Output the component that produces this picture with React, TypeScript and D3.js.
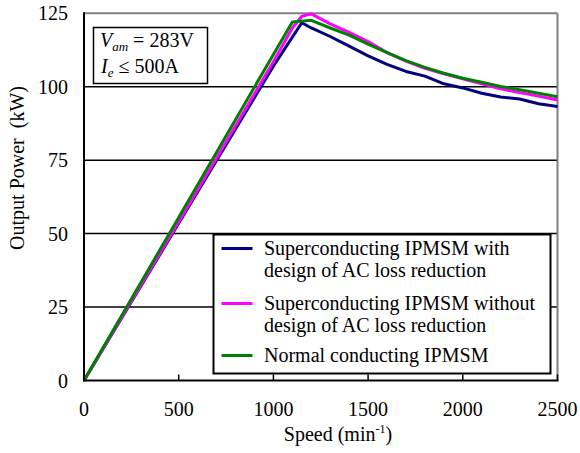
import React from "react";
import * as d3 from "d3";

type Pt = [number, number];

const speedTicks = [0, 500, 1000, 1500, 2000, 2500];
const powerTicks = [0, 25, 50, 75, 100, 125];

const seriesNames = [
  ["Superconducting IPMSM with", "design of AC loss reduction"],
  ["Superconducting IPMSM without", "design of AC loss reduction"],
  ["Normal conducting IPMSM"],
];
const seriesColors = ["#000080", "#ff00ff", "#008000"];

const withReduction: Pt[] = [
  [0, 0], [500, 53.5], [1000, 107], [1150, 121.8], [1200, 120.0], [1300, 117.1],
  [1400, 113.8], [1500, 110.5], [1600, 107.6], [1700, 105.2], [1800, 103.6],
  [1900, 101.0], [2000, 99.6], [2100, 97.8], [2200, 96.5], [2300, 95.8],
  [2400, 94.2], [2500, 93.3],
];
const withoutReduction: Pt[] = [
  [0, 0], [500, 54], [1000, 108.5], [1100, 120], [1150, 124], [1200, 124.8],
  [1300, 121.4], [1400, 118.5], [1500, 115.4], [1600, 111.6], [1700, 108.7],
  [1800, 106.3], [1900, 104.4], [2000, 102.7], [2100, 101.0], [2200, 99.3],
  [2300, 98.0], [2400, 96.8], [2500, 95.5],
];
const normalConducting: Pt[] = [
  [0, 0], [500, 55.5], [1000, 111], [1100, 122], [1200, 122.6], [1300, 120],
  [1400, 117.6], [1500, 114.5], [1600, 111.6], [1700, 108.9], [1800, 106.6],
  [1900, 104.6], [2000, 102.9], [2100, 101.5], [2200, 100.1], [2300, 99.0],
  [2400, 97.8], [2500, 96.6],
];
const allSeries = [withReduction, withoutReduction, normalConducting];

const FONT = '"Liberation Serif", "Times New Roman", "DejaVu Serif", serif';

export default function App() {
  const W = 580, H = 453;
  const x = d3.scaleLinear().domain([0, 2500]).range([84, 557.5]);
  const y = d3.scaleLinear().domain([0, 125]).range([380.5, 13.3]);
  const line = d3
    .line<Pt>()
    .x((d) => x(d[0]))
    .y((d) => y(d[1]));

  const legendX = 213.5, legendY = 234.5, legendW = 337, legendH = 139;
  const itemTops = [255, 310, 362];
  const ts: React.CSSProperties = { fontFamily: FONT };

  return (
    <svg
      width={W}
      height={H}
      style={{ position: "absolute", left: 0, top: 0, background: "#fff", fontFamily: FONT }}
    >
      <rect x={0} y={0} width={W} height={H} fill="#fff" />
      {powerTicks
        .filter((t) => t > 0 && t < 125)
        .map((t) => (
          <line key={t} x1={x(0)} x2={x(2500)} y1={y(t)} y2={y(t)} stroke="#000" strokeWidth={1.5} />
        ))}
      <line x1={x(0)} x2={x(2500)} y1={y(125)} y2={y(125)} stroke="#808080" strokeWidth={2} />
      <line x1={x(2500)} x2={x(2500)} y1={y(125)} y2={y(0)} stroke="#808080" strokeWidth={2} />
      {speedTicks.map((t) => (
        <line key={t} x1={x(t)} x2={x(t)} y1={y(0)} y2={y(0) - 6} stroke="#000" strokeWidth={1.5} />
      ))}
      {allSeries.map((s, i) => (
        <path key={i} d={line(s) || ""} fill="none" stroke={seriesColors[i]} strokeWidth={3} strokeLinejoin="round" />
      ))}
      <line x1={x(0)} x2={x(0)} y1={y(125) - 1} y2={y(0) + 1} stroke="#000" strokeWidth={2} />
      <line x1={x(0) - 1} x2={x(2500) + 1} y1={y(0)} y2={y(0)} stroke="#000" strokeWidth={2} />
      {speedTicks.map((t) => (
        <text key={t} x={x(t)} y={416} textAnchor="middle" fontSize={20} style={ts}>
          {t}
        </text>
      ))}
      {powerTicks.map((t) => (
        <text key={t} x={68} y={y(t) + 7} textAnchor="end" fontSize={20} style={ts}>
          {t}
        </text>
      ))}
      <text x={338} y={441} textAnchor="middle" fontSize={20} style={ts}>
        Speed (min
        <tspan fontSize={12} dy={-8}>-1</tspan>
        <tspan dy={8}>)</tspan>
      </text>
      <text
        transform={`translate(24,168) rotate(-90)`}
        textAnchor="middle"
        fontSize={20}
        style={{ ...ts, whiteSpace: "pre" }}
      >
        {"Output Power  (kW)"}
      </text>
      <rect x={93.5} y={27.5} width={114} height={56} fill="#fff" stroke="#000" strokeWidth={1.5} />
      <text x={100} y={47} fontSize={20} style={ts}>
        <tspan fontStyle="italic">V</tspan>
        <tspan fontStyle="italic" fontSize={13} dy={4}>am</tspan>
        <tspan dy={-4}> = 283V</tspan>
      </text>
      <text x={101} y={73} fontSize={20} style={ts}>
        <tspan fontStyle="italic">I</tspan>
        <tspan fontStyle="italic" fontSize={13} dy={4}>e</tspan>
        <tspan dy={-4}> ≤ 500A</tspan>
      </text>
      <rect x={legendX} y={legendY} width={legendW} height={legendH} fill="#fff" stroke="#000" strokeWidth={2} />
      {seriesNames.map((lines, i) => (
        <g key={i}>
          <line
            x1={221.5}
            x2={252.5}
            y1={itemTops[i] - 6.5}
            y2={itemTops[i] - 6.5}
            stroke={seriesColors[i]}
            strokeWidth={3}
          />
          {lines.map((l, j) => (
            <text key={j} x={264} y={itemTops[i] + j * 22} fontSize={20} style={ts}>
              {l}
            </text>
          ))}
        </g>
      ))}
    </svg>
  );
}
